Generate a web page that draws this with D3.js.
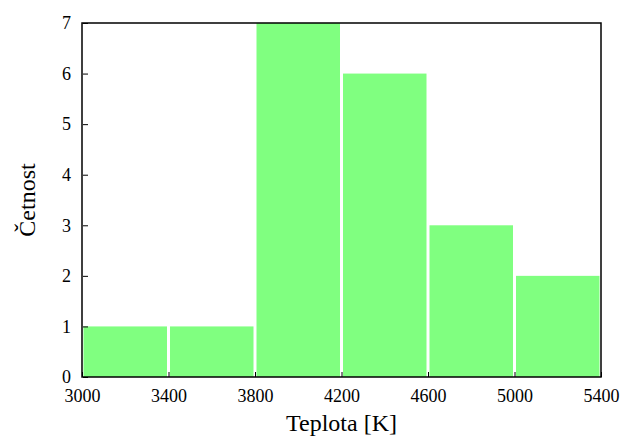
<!DOCTYPE html>
<html>
<head>
<meta charset="utf-8">
<script src="https://cdn.jsdelivr.net/npm/d3@7"></script>
<style>
  html, body { margin: 0; padding: 0; background: #fff; }
  svg { display: block; }
  svg text { font-family: "Liberation Serif", "DejaVu Serif", serif; }
</style>
</head>
<body>
<svg id="chart" width="621" height="438"></svg>
<script>
// Histogram of temperatures: bin edges and counts
const binStarts = [3000, 3400, 3800, 4200, 4600, 5000];
const binWidth = 400;
const counts = [1, 1, 7, 6, 3, 2];
const xTicks = [3000, 3400, 3800, 4200, 4600, 5000, 5400];
const yTicks = [0, 1, 2, 3, 4, 5, 6, 7];

const margin = { left: 82, right: 20, top: 23, bottom: 61 };
const W = 621, H = 438;
const svg = d3.select("#chart");

const x = d3.scaleLinear().domain([3000, 5400]).range([margin.left, W - margin.right]);
const y = d3.scaleLinear().domain([0, 7]).range([H - margin.bottom, margin.top]);

const plot = svg.append("g");
plot.append("clipPath").attr("id", "clip")
  .append("rect")
  .attr("x", x(3000)).attr("y", y(7))
  .attr("width", x(5400) - x(3000)).attr("height", y(0) - y(7));

const gap = 3;
plot.append("g").attr("clip-path", "url(#clip)")
  .selectAll("rect")
  .data(binStarts.map((s, i) => ({ s, c: counts[i] })))
  .join("rect")
  .attr("x", d => x(d.s) + gap / 2)
  .attr("width", d => x(d.s + binWidth) - x(d.s) - gap)
  .attr("y", d => y(d.c))
  .attr("height", d => y(0) - y(d.c))
  .attr("fill", "#80ff80");

// Axes with inward ticks
const xAxis = d3.axisBottom(x).tickValues(xTicks).tickFormat(d3.format("d")).tickSize(-5).tickPadding(11);
const yAxis = d3.axisLeft(y).tickValues(yTicks).tickFormat(d3.format("d")).tickSize(-5).tickPadding(12);

const gx = svg.append("g").attr("transform", `translate(0,${y(0)})`).call(xAxis);
const gy = svg.append("g").attr("transform", `translate(${x(3000) + 1},0)`).call(yAxis);
[gx, gy].forEach(g => {
  g.attr("font-family", null).attr("font-size", null);
  g.select(".domain").remove();
  g.selectAll("line").attr("stroke", "#000").attr("stroke-width", 1);
  g.selectAll("text")
    .style("font-family", "'Liberation Serif', 'DejaVu Serif', serif")
    .style("font-size", "18px").attr("fill", "#000");
});
gx.selectAll("text").attr("dy", "0.8em");

// Frame
svg.append("rect")
  .attr("x", x(3000)).attr("y", y(7))
  .attr("width", x(5400) - x(3000)).attr("height", y(0) - y(7))
  .attr("fill", "none").attr("stroke", "#000").attr("stroke-width", 1.5);

// Axis titles
svg.append("text")
  .attr("x", (x(3000) + x(5400)) / 2).attr("y", 431)
  .attr("text-anchor", "middle").style("font-size", "24px").attr("fill", "#000")
  .text("Teplota [K]");

svg.append("text")
  .attr("transform", `translate(35,${(y(0) + y(7)) / 2}) rotate(-90)`)
  .attr("text-anchor", "middle").style("font-size", "24px").attr("fill", "#000")
  .text("Četnost");
</script>
</body>
</html>
